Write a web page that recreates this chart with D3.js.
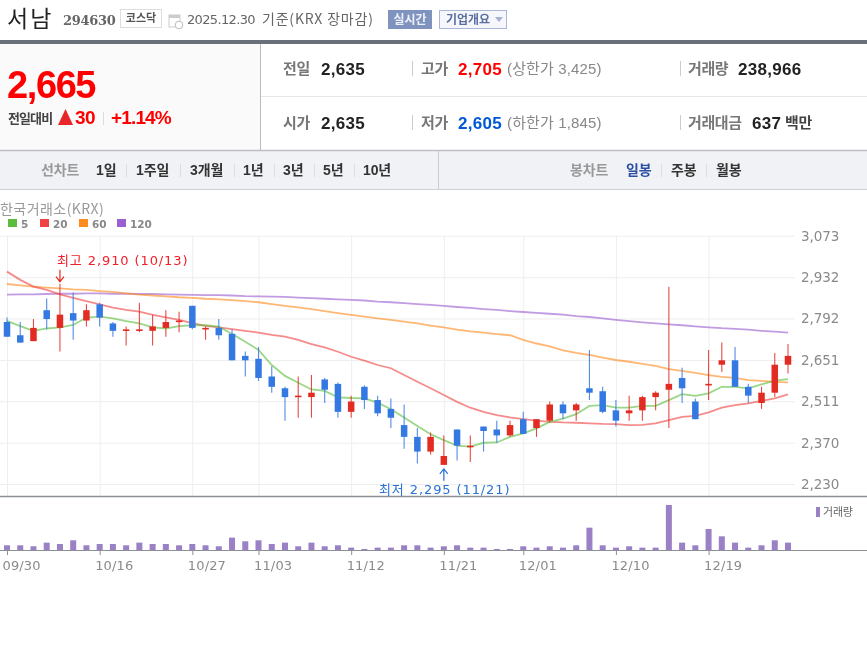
<!DOCTYPE html>
<html><head><meta charset="utf-8">
<script src="https://cdn.jsdelivr.net/npm/d3@7/dist/d3.min.js"></script>
<style>html,body{margin:0;padding:0;background:#fff;overflow:hidden}svg{display:block;filter:blur(0.3px)}</style>
</head><body><div id="c"></div>
<script>
const dates=["09/30","10/01","10/02","10/10","10/13","10/14","10/15","10/16","10/17","10/20","10/21","10/22","10/23","10/24","10/27","10/28","10/29","10/30","10/31","11/03","11/04","11/05","11/06","11/07","11/10","11/11","11/12","11/13","11/14","11/17","11/18","11/19","11/20","11/21","11/24","11/25","11/26","11/27","11/28","12/01","12/02","12/03","12/04","12/05","12/08","12/09","12/10","12/11","12/12","12/15","12/16","12/17","12/18","12/19","12/22","12/23","12/24","12/26","12/29","12/30"];
const opens=[2780,2735,2715,2820,2760,2810,2785,2840,2775,2750,2750,2750,2760,2780,2835,2755,2760,2740,2665,2655,2595,2555,2525,2525,2585,2570,2475,2560,2515,2485,2430,2390,2340,2295,2415,2355,2425,2415,2395,2450,2420,2445,2500,2480,2555,2545,2480,2470,2480,2525,2550,2590,2510,2565,2635,2650,2560,2505,2540,2635];
const closes=[2730,2710,2760,2790,2805,2785,2820,2795,2750,2755,2755,2765,2780,2785,2760,2760,2735,2650,2650,2590,2560,2525,2530,2540,2550,2475,2510,2515,2470,2455,2390,2340,2390,2325,2360,2360,2410,2395,2430,2400,2450,2500,2470,2500,2540,2475,2445,2480,2525,2540,2570,2555,2450,2570,2650,2560,2530,2540,2635,2665];
const highs=[2795,2780,2790,2860,2910,2880,2840,2845,2780,2765,2845,2805,2820,2815,2835,2765,2790,2755,2680,2695,2630,2560,2595,2600,2590,2575,2530,2565,2530,2520,2500,2420,2405,2395,2415,2395,2425,2445,2445,2475,2450,2510,2510,2505,2685,2560,2515,2530,2530,2545,2900,2625,2520,2685,2710,2695,2570,2560,2675,2705];
const lows=[2730,2710,2715,2755,2680,2720,2765,2765,2730,2700,2745,2700,2730,2745,2755,2720,2720,2650,2595,2580,2540,2445,2455,2455,2505,2455,2455,2485,2460,2420,2350,2300,2330,2295,2310,2305,2340,2370,2390,2400,2390,2440,2450,2445,2515,2470,2425,2445,2445,2480,2420,2505,2450,2515,2610,2560,2505,2485,2525,2605];
const volumes=[156000,156000,125000,239000,197000,312000,156000,197000,197000,156000,239000,197000,197000,156000,197000,156000,125000,395000,281000,312000,197000,239000,125000,239000,125000,156000,83000,42000,83000,83000,156000,156000,83000,125000,156000,83000,83000,42000,42000,125000,83000,125000,83000,156000,706000,156000,83000,125000,83000,83000,1413000,239000,156000,665000,436000,239000,83000,156000,312000,238966];
const ma5=[2784,2766,2750,2758,2762,2770,2795,2798,2792,2783,2775,2762,2758,2766,2769,2769,2764,2739,2713,2685,2634,2597,2574,2551,2546,2524,2522,2521,2506,2484,2456,2427,2399,2379,2360,2357,2370,2371,2390,2402,2419,2441,2452,2467,2495,2498,2489,2489,2495,2495,2515,2535,2529,2538,2560,2560,2555,2568,2581,2586];
const ma20=[2951,2923,2900,2889,2874,2862,2851,2840,2829,2821,2815,2804,2796,2787,2776,2767,2762,2756,2750,2744,2736,2730,2719,2705,2694,2679,2662,2649,2634,2623,2600,2577,2555,2532,2509,2489,2475,2464,2456,2450,2445,2441,2439,2438,2436,2434,2433,2430,2431,2436,2447,2458,2461,2473,2489,2498,2504,2512,2521,2534];
const ma60=[2909,2904,2900,2897,2894,2891,2889,2885,2882,2877,2873,2870,2867,2864,2862,2859,2857,2854,2851,2847,2841,2835,2830,2824,2817,2810,2804,2798,2792,2787,2781,2775,2768,2762,2754,2748,2744,2739,2735,2719,2707,2697,2684,2675,2668,2659,2651,2645,2638,2631,2620,2614,2607,2600,2594,2590,2583,2580,2577,2575];
const ma120=[2873,2874,2874,2875,2876,2876,2877,2877,2876,2876,2875,2875,2874,2873,2872,2871,2871,2870,2868,2867,2866,2865,2863,2861,2859,2857,2855,2853,2849,2847,2844,2841,2838,2835,2831,2828,2824,2821,2817,2814,2811,2808,2805,2800,2797,2792,2787,2783,2779,2775,2772,2769,2765,2762,2759,2757,2754,2750,2747,2744];
const priceTicks=[3073,2932,2792,2651,2511,2370,2230];
const dateTicks=["09/30","10/16","10/27","11/03","11/12","11/21","12/01","12/10","12/19"];
const maNames=["5","20","60","120"];
const maColors=["#5cbf3c","#ef4444","#ff8a1e","#9b5fd0"];
const rangeTabs=["1일","1주일","3개월","1년","3년","5년","10년"];
const candleTabs=["일봉","주봉","월봉"];

const W=867,H=645;
const KR='"Liberation Sans","Noto Sans CJK KR",sans-serif';
const CH='"DejaVu Sans","Noto Sans CJK KR",sans-serif';
const svg=d3.select("#c").append("svg").attr("width",W).attr("height",H).attr("viewBox",`0 0 ${W} ${H}`);
function t(x,y,s,o={}){return svg.append("text").attr("x",x).attr("y",y).text(s)
 .attr("font-family",o.f||KR).attr("font-size",o.s||14).attr("font-weight",o.w||"normal")
 .attr("fill",o.c||"#333").attr("letter-spacing",o.ls||null).attr("text-anchor",o.a||"start");}
function r(x,y,w,h,f,st){return svg.append("rect").attr("x",x).attr("y",y).attr("width",w).attr("height",h).attr("fill",f).attr("stroke",st||"none");}
function ln(x1,y1,x2,y2,c,w){return svg.append("line").attr("x1",x1).attr("y1",y1).attr("x2",x2).attr("y2",y2).attr("stroke",c).attr("stroke-width",w||1);}

// header
t(7,27,"서남",{s:23,c:"#222",f:'"Noto Sans CJK KR",sans-serif',ls:"2"});
t(63,25,"294630",{s:13,w:"bold",c:"#666",f:'"DejaVu Serif",serif',ls:"-0.3"});
r(120.5,9.5,41,18,"#fff","#ddd");
t(141,22,"코스닥",{s:11,c:"#555",a:"middle",w:"bold"});
r(169,15,11,12,"#fff","#ccc"); r(169,15,11,3,"#ccc");
svg.append("circle").attr("cx",179).attr("cy",25).attr("r",3.8).attr("fill","#fff").attr("stroke","#bbb");
t(187,24,"2025.12.30",{s:13,c:"#666",f:CH,ls:"-0.65"});
t(262,24,"기준(KRX 장마감)",{s:14,c:"#666",f:'"Noto Sans CJK KR",sans-serif',ls:"0.8"});
r(388,10,44,19,"#8093bf");
t(410,24,"실시간",{s:12,c:"#eef1f8",a:"middle",w:"bold"});
r(439.5,10.5,67,18,"#f5f7fc","#a9b7db");
t(446,24,"기업개요",{s:12,c:"#5c6f9f",w:"bold"});
svg.append("path").attr("d","M495 17h8l-4 5z").attr("fill","#a5b2d2");
r(0,40,W,4,"#6a7079");

// summary panel
r(0,44,260,106,"#fafafa");
ln(260.5,44,260.5,150,"#bbb");
ln(261,96.5,W,96.5,"#e6e6e6");
t(7,98,"2,665",{s:38,w:"bold",c:"#f00",ls:"-1.4"});
t(8,123,"전일대비",{s:13,w:"bold",c:"#444",ls:"-0.9"});
svg.append("path").attr("d","M65.5 109L73 125H58z").attr("fill","#e8262a");
t(75,124,"30",{s:19,w:"bold",c:"#f00",ls:"-0.5"});
ln(103.5,112,103.5,125,"#ddd");
t(111,124,"+1.14%",{s:19,w:"bold",c:"#f00",ls:"-0.85"});

const lab={s:15,w:"bold",c:"#777",ls:"-0.4"}, num={s:17,w:"bold",c:"#222",ls:"0.3"}, lim={s:15,c:"#888",ls:"0.15"};
t(283,74,"전일",lab); t(321,75,"2,635",num);
ln(412.5,61,412.5,76,"#ccc");
t(421,74,"고가",lab); t(458,75,"2,705",{...num,c:"#f00"}); t(507,74,"(상한가 3,425)",lim);
ln(680.5,61,680.5,76,"#ccc");
t(688,74,"거래량",lab); t(738,75,"238,966",num);
t(283,128,"시가",lab); t(321,129,"2,635",num);
ln(412.5,115,412.5,130,"#ccc");
t(421,128,"저가",lab); t(458,129,"2,605",{...num,c:"#0058d8"}); t(507,128,"(하한가 1,845)",lim);
ln(680.5,115,680.5,130,"#ccc");
t(688,128,"거래대금",lab); t(752,129,"637",num); t(785,128,"백만",{...lab,c:"#444"});

// tab bar
r(0,151,W,38,"#f0f2f6");
ln(0,150.5,W,150.5,"#bdbfc4",1.5); ln(0,189.5,W,189.5,"#cfd1d6");
ln(438.5,151,438.5,189,"#c9ccd2");
const tabS={s:14,w:"bold",c:"#333",ls:"-0.1"};
t(41,175,"선차트",{...tabS,c:"#999"});
[96,136,190,243,283,323,363].forEach((x,i)=>t(x,175,rangeTabs[i],tabS));
[126,180,234,274,314,354].forEach(x=>ln(x+.5,164,x+.5,177,"#dcdde0"));
t(570,175,"봉차트",{...tabS,c:"#999"});
[626,671,716].forEach((x,i)=>t(x,175,candleTabs[i],{...tabS,c:i?"#333":"#2c4fa3"}));
[661,706].forEach(x=>ln(x+.5,164,x+.5,177,"#dcdde0"));

// chart legend
t(0,214,"한국거래소(KRX)",{s:14,c:"#999",f:'"Noto Sans CJK KR",sans-serif',ls:"0.45"});
[8,40,79,117].forEach((x,i)=>{r(x,219,9,8,maColors[i]);t(x+13,228,maNames[i],{s:10.5,w:"bold",c:"#888",f:CH});});

// scales
const x=d3.scalePoint().domain(dates).range([7,788]);
const y=d3.scaleLinear().domain([2230,3073]).range([484,235.7]);
const yv=d3.scaleLinear().domain([0,1413000]).range([550.3,505]);

// grid
const gridV=svg.append("g").attr("transform","translate(0,496)").call(d3.axisBottom(x).tickValues(dateTicks).tickSize(-260).tickFormat(""));
gridV.select(".domain").remove();
gridV.selectAll("line").attr("stroke","#eeeeee");
const gridH=svg.append("g").attr("transform","translate(795,0)").call(d3.axisLeft(y).tickValues(priceTicks).tickSize(795).tickFormat(""));
gridH.select(".domain").remove();
gridH.selectAll("line").attr("stroke","#eeeeee");
const yLabels=svg.append("g").attr("transform","translate(795,0)").call(d3.axisRight(y).tickValues(priceTicks).tickSize(0).tickPadding(6).tickFormat(d3.format(",")));
yLabels.select(".domain").remove();
yLabels.selectAll("text").attr("font-family",CH).attr("font-size",13.5).attr("fill","#8a8a8a").attr("letter-spacing","-0.1");

ln(0,496.5,W,496.5,"#8c8f94",1.5);

// moving averages
const line=d3.line().x((d,i)=>x(dates[i])).y(d=>y(d));
[[ma120,3],[ma60,2],[ma20,1],[ma5,0]].forEach(([s,c])=>svg.append("path").datum(s).attr("d",line).attr("fill","none")
 .attr("stroke",maColors[c]).attr("stroke-width",1.8).attr("stroke-opacity",.62));

// candles
const up=i=>closes[i]>=opens[i];
const col=i=>up(i)?"#e22b22":"#3478e2";
svg.append("g").selectAll("line").data(dates).join("line")
 .attr("x1",d=>x(d)).attr("x2",d=>x(d))
 .attr("y1",(d,i)=>y(highs[i])).attr("y2",(d,i)=>y(lows[i]))
 .attr("stroke",(d,i)=>col(i)).attr("stroke-width",1.1).attr("stroke-opacity",.85);
svg.append("g").selectAll("rect").data(dates).join("rect")
 .attr("x",d=>x(d)-3.25).attr("width",6.5)
 .attr("y",(d,i)=>y(Math.max(opens[i],closes[i])))
 .attr("height",(d,i)=>Math.max(1.6,Math.abs(y(opens[i])-y(closes[i]))))
 .attr("fill",(d,i)=>col(i));

// hi/lo annotations
const hiI=d3.maxIndex(highs),loI=d3.minIndex(lows);
const hx=x(dates[hiI]),lx=x(dates[loI]);
const hy=y(highs[hiI]),ly=y(lows[loI]);
t(57,265,"최고 "+d3.format(",")(highs[hiI])+" ("+dates[hiI]+")",{s:13,c:"#f0202a",f:CH,ls:"0.9"});
svg.append("path").attr("d",`M${hx} ${hy-14}V${hy-2}M${hx-4} ${hy-7}L${hx} ${hy-2}L${hx+4} ${hy-7}`).attr("fill","none").attr("stroke","#e22b22").attr("stroke-width",1.2);
t(379,494,"최저 "+d3.format(",")(lows[loI])+" ("+dates[loI]+")",{s:13,c:"#2a72d8",f:CH,ls:"0.9"});
svg.append("path").attr("d",`M${lx} ${ly+16}V${ly+4}M${lx-4} ${ly+9}L${lx} ${ly+4}L${lx+4} ${ly+9}`).attr("fill","none").attr("stroke","#2a72d8").attr("stroke-width",1.2);

// volume
svg.append("g").selectAll("rect").data(dates).join("rect")
 .attr("x",d=>x(d)-3).attr("width",6)
 .attr("y",(d,i)=>yv(volumes[i])).attr("height",(d,i)=>yv(0)-yv(volumes[i]))
 .attr("fill","#9a80c4");
const xAxis=svg.append("g").attr("transform","translate(0,550)").call(d3.axisBottom(x).tickValues(dateTicks).tickSize(5).tickPadding(6));
xAxis.select(".domain").remove();
ln(0,550.5,W,550.5,"#8c8f94",1);
xAxis.selectAll("line").attr("stroke","#8c8f94");
xAxis.selectAll("text").attr("font-family",CH).attr("font-size",13).attr("fill","#8a8a8a")
 .attr("text-anchor","start").attr("dx",-5).attr("letter-spacing","0.15");
r(816,507,4,10,"#9a80c4");
t(823,516,"거래량",{s:11,c:"#666",ls:"-0.2",f:'"Noto Sans CJK KR",sans-serif'});
</script></body></html>
